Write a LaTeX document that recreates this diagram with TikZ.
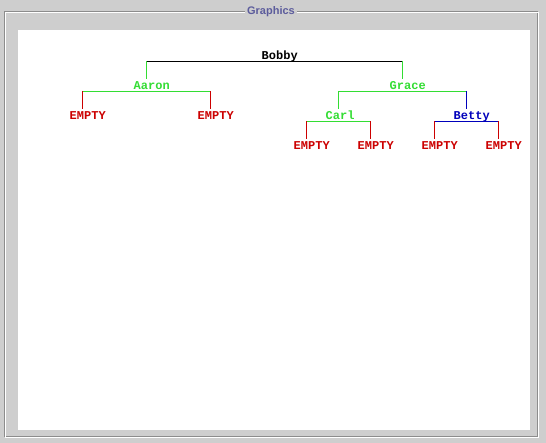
\documentclass[tikz,border=0pt]{standalone}
\usepackage{fontspec}
\newfontfamily\treefont{Liberation Mono}
\newfontfamily\titlefont{Liberation Sans}
\usepackage{tikz}
\definecolor{panelgray}{RGB}{206,206,206}
\definecolor{etchgray}{RGB}{140,140,140}
\definecolor{titleblue}{RGB}{92,92,156}
\definecolor{leafred}{RGB}{204,0,0}
\definecolor{treegreen}{RGB}{51,221,51}
\definecolor{treeblue}{RGB}{0,0,187}

\begin{document}
\begin{tikzpicture}[x=1pt, y=-1pt,
        tn/.style={anchor=west, xshift=-12.5pt, inner sep=0pt,
                   minimum height=12pt, text height=10pt, text depth=0pt,
                   font=\treefont\bfseries\fontsize{12}{12}\selectfont},
        edge/.style={line width=1pt}
      ]
        % frame
        \fill[panelgray] (0,0) rectangle (546,443);
        \draw[etchgray, line width=1pt] (4.5,11.5) rectangle (537.5,436.5);
        \draw[white, line width=1pt] (5.5,12.5) rectangle (538.5,437.5);
        \node[fill=panelgray, inner xsep=2pt, inner ysep=1pt, text=titleblue,
              font=\titlefont\bfseries\fontsize{11}{11}\selectfont] (title) at (271,12) {Graphics};
        \fill[white] (18,30) rectangle (530,429.5);

        % tree
        \node[tn, text=black] (bobby) at (274,55) {Bobby};
        \node[tn, text=treegreen] (aaron) at (146,85) {Aaron};
        \node[tn, text=treegreen] (grace) at (402,85) {Grace};
        \node[tn, text=leafred] (e1) at (82,115) {EMPTY};
        \node[tn, text=leafred] (e2) at (210,115) {EMPTY};
        \node[tn, text=treegreen] (carl) at (338,115) {Carl};
        \node[tn, text=treeblue] (betty) at (466,115) {Betty};
        \node[tn, text=leafred] (e3) at (306,145) {EMPTY};
        \node[tn, text=leafred] (e4) at (370,145) {EMPTY};
        \node[tn, text=leafred] (e5) at (434,145) {EMPTY};
        \node[tn, text=leafred] (e6) at (498,145) {EMPTY};

        \foreach \n in {bobby,aaron,grace,carl,betty,e1,e2,e3,e4,e5,e6} {
          \coordinate (\n-t) at ([xshift=12.5pt]\n.north west);
          \coordinate (\n-b) at ([xshift=12.5pt]\n.south west);
        }

        % bars
        \draw[edge, black] (aaron-t |- bobby-b) -- (grace-t |- bobby-b);
        \draw[edge, treegreen] (e1-t |- aaron-b) -- (e2-t |- aaron-b);
        \draw[edge, treegreen] (carl-t |- grace-b) -- (betty-t |- grace-b);
        \draw[edge, treegreen] (e3-t |- carl-b) -- (e4-t |- carl-b);
        \draw[edge, treeblue] (e5-t |- betty-b) -- (e6-t |- betty-b);

        % stems
        \draw[edge, treegreen] (aaron-t |- bobby-b) -- (aaron-t);
        \draw[edge, treegreen] (grace-t |- bobby-b) -- (grace-t);
        \draw[edge, leafred] (e1-t |- aaron-b) -- (e1-t);
        \draw[edge, leafred] (e2-t |- aaron-b) -- (e2-t);
        \draw[edge, treegreen] (carl-t |- grace-b) -- (carl-t);
        \draw[edge, treeblue] (betty-t |- grace-b) -- (betty-t);
        \draw[edge, leafred] (e3-t |- carl-b) -- (e3-t);
        \draw[edge, leafred] (e4-t |- carl-b) -- (e4-t);
        \draw[edge, leafred] (e5-t |- betty-b) -- (e5-t);
        \draw[edge, leafred] (e6-t |- betty-b) -- (e6-t);
      \end{tikzpicture}
\end{document}
